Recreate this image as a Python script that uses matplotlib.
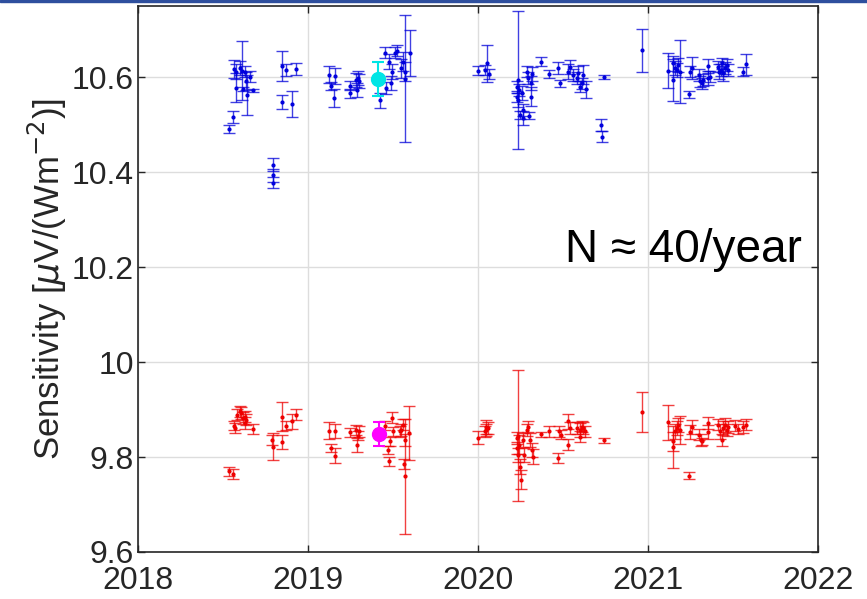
import matplotlib
matplotlib.use('Agg')
import matplotlib.pyplot as plt
from matplotlib.patches import Rectangle

plt.rcParams['font.family'] = ['Liberation Sans', 'DejaVu Sans']

# blue series (upper)
blue_t = [2018.559, 2018.535, 2018.565, 2018.579, 2018.598, 2018.614, 2018.628, 2018.638, 2018.657, 2018.575,
          2018.641, 2018.676, 2018.618, 2018.794, 2018.794, 2018.794, 2018.847, 2018.908, 2018.849, 2018.873,
          2018.928, 2019.124, 2019.157, 2019.134, 2019.155, 2019.249, 2019.249, 2019.281, 2019.294, 2019.300,
          2019.288, 2019.426, 2019.451, 2019.475, 2019.510, 2019.524, 2019.491, 2019.486, 2019.461, 2019.549,
          2019.559, 2019.569, 2019.569, 2019.598, 2020.000, 2020.039, 2020.053, 2020.065, 2020.235, 2020.226,
          2020.226, 2020.235, 2020.241, 2020.255, 2020.265, 2020.265, 2020.245, 2020.300, 2020.285, 2020.314,
          2020.310, 2020.308, 2020.294, 2020.367, 2020.418, 2020.471, 2020.481, 2020.539, 2020.529, 2020.559,
          2020.579, 2020.588, 2020.598, 2020.618, 2020.634, 2020.608, 2020.741, 2020.722, 2020.726, 2020.961,
          2021.114, 2021.144, 2021.147, 2021.157, 2021.167, 2021.176, 2021.186, 2021.241, 2021.245, 2021.255,
          2021.300, 2021.304, 2021.314, 2021.324, 2021.353, 2021.353, 2021.363, 2021.412, 2021.418, 2021.426,
          2021.432, 2021.441, 2021.451, 2021.461, 2021.471, 2021.559, 2021.575]
blue_v = [10.516, 10.491, 10.617, 10.612, 10.619, 10.614, 10.612, 10.592, 10.601, 10.578,
          10.563, 10.572, 10.575, 10.416, 10.393, 10.378, 10.547, 10.543, 10.624, 10.615,
          10.617, 10.605, 10.603, 10.582, 10.556, 10.582, 10.566, 10.594, 10.599, 10.592,
          10.573, 10.551, 10.652, 10.633, 10.652, 10.656, 10.612, 10.587, 10.577, 10.619,
          10.633, 10.612, 10.597, 10.651, 10.614, 10.615, 10.629, 10.607, 10.594, 10.579,
          10.559, 10.552, 10.573, 10.566, 10.531, 10.514, 10.521, 10.519, 10.612, 10.607,
          10.587, 10.559, 10.598, 10.633, 10.607, 10.619, 10.587, 10.622, 10.612, 10.605,
          10.598, 10.608, 10.580, 10.605, 10.575, 10.587, 10.601, 10.499, 10.475, 10.657,
          10.614, 10.629, 10.594, 10.619, 10.615, 10.626, 10.612, 10.564, 10.612, 10.620,
          10.605, 10.591, 10.587, 10.594, 10.624, 10.598, 10.601, 10.622, 10.612, 10.615,
          10.629, 10.608, 10.619, 10.626, 10.615, 10.612, 10.627]
blue_e = [0.012, 0.008, 0.019, 0.015, 0.015, 0.063, 0.012, 0.020, 0.012, 0.030,
          0.042, 0.004, 0.005, 0.013, 0.013, 0.012, 0.015, 0.027, 0.031, 0.012,
          0.013, 0.018, 0.017, 0.008, 0.019, 0.010, 0.010, 0.015, 0.015, 0.015,
          0.015, 0.015, 0.012, 0.015, 0.012, 0.012, 0.015, 0.015, 0.012, 0.020,
          0.020, 0.020, 0.133, 0.049, 0.010, 0.010, 0.039, 0.010, 0.146, 0.012,
          0.012, 0.015, 0.012, 0.015, 0.012, 0.015, 0.008, 0.008, 0.012, 0.015,
          0.015, 0.020, 0.012, 0.010, 0.008, 0.012, 0.008, 0.015, 0.015, 0.012,
          0.012, 0.015, 0.012, 0.020, 0.018, 0.012, 0.004, 0.012, 0.012, 0.045,
          0.037, 0.015, 0.045, 0.015, 0.015, 0.015, 0.066, 0.007, 0.012, 0.023,
          0.012, 0.012, 0.012, 0.012, 0.015, 0.015, 0.012, 0.012, 0.015, 0.012,
          0.012, 0.015, 0.012, 0.012, 0.012, 0.010, 0.022]

# red series (lower)
red_t = [2018.535, 2018.559, 2018.563, 2018.569, 2018.582, 2018.598, 2018.608, 2018.618, 2018.628, 2018.638,
         2018.632, 2018.676, 2018.791, 2018.794, 2018.847, 2018.847, 2018.873, 2018.906, 2018.928, 2019.124,
         2019.157, 2019.134, 2019.157, 2019.245, 2019.281, 2019.294, 2019.300, 2019.288, 2019.491, 2019.451,
         2019.500, 2019.481, 2019.471, 2019.476, 2019.549, 2019.559, 2019.539, 2019.594, 2019.565, 2019.569,
         2019.569, 2020.000, 2020.039, 2020.049, 2020.059, 2020.045, 2020.235, 2020.226, 2020.226, 2020.235,
         2020.245, 2020.249, 2020.265, 2020.269, 2020.285, 2020.294, 2020.304, 2020.314, 2020.320, 2020.241,
         2020.367, 2020.418, 2020.471, 2020.476, 2020.485, 2020.529, 2020.539, 2020.529, 2020.579, 2020.598,
         2020.608, 2020.618, 2020.628, 2020.598, 2020.741, 2020.961, 2021.114, 2021.144, 2021.147, 2021.157,
         2021.167, 2021.176, 2021.186, 2021.241, 2021.245, 2021.255, 2021.300, 2021.308, 2021.314, 2021.353,
         2021.353, 2021.412, 2021.422, 2021.432, 2021.441, 2021.451, 2021.461, 2021.471, 2021.510, 2021.529,
         2021.559, 2021.575]
red_v = [9.770, 9.764, 9.866, 9.861, 9.889, 9.896, 9.893, 9.882, 9.885, 9.879,
         9.872, 9.859, 9.836, 9.822, 9.885, 9.832, 9.866, 9.875, 9.889, 9.855,
         9.855, 9.819, 9.803, 9.852, 9.857, 9.845, 9.854, 9.826, 9.883, 9.866,
         9.854, 9.833, 9.815, 9.791, 9.857, 9.868, 9.854, 9.850, 9.785, 9.759,
         9.836, 9.841, 9.854, 9.864, 9.861, 9.857, 9.845, 9.840, 9.819, 9.805,
         9.780, 9.752, 9.836, 9.805, 9.857, 9.864, 9.836, 9.815, 9.801, 9.826,
         9.848, 9.854, 9.798, 9.854, 9.847, 9.875, 9.861, 9.826, 9.861, 9.857,
         9.864, 9.861, 9.854, 9.843, 9.835, 9.894, 9.873, 9.833, 9.821, 9.854,
         9.861, 9.868, 9.857, 9.761, 9.852, 9.863, 9.847, 9.836, 9.833, 9.852,
         9.872, 9.868, 9.854, 9.836, 9.861, 9.868, 9.857, 9.863, 9.866, 9.859,
         9.863, 9.868]
red_e = [0.010, 0.010, 0.010, 0.010, 0.012, 0.012, 0.012, 0.012, 0.012, 0.012,
         0.012, 0.010, 0.010, 0.028, 0.030, 0.015, 0.010, 0.015, 0.012, 0.018,
         0.015, 0.008, 0.015, 0.010, 0.010, 0.010, 0.012, 0.015, 0.012, 0.010,
         0.010, 0.010, 0.008, 0.010, 0.012, 0.012, 0.012, 0.057, 0.010, 0.122,
         0.012, 0.013, 0.012, 0.015, 0.012, 0.012, 0.138, 0.012, 0.012, 0.015,
         0.015, 0.020, 0.015, 0.015, 0.012, 0.012, 0.015, 0.015, 0.015, 0.020,
         0.005, 0.012, 0.010, 0.012, 0.010, 0.015, 0.012, 0.012, 0.012, 0.015,
         0.012, 0.012, 0.012, 0.012, 0.006, 0.042, 0.037, 0.020, 0.045, 0.015,
         0.015, 0.015, 0.030, 0.008, 0.015, 0.015, 0.012, 0.012, 0.008, 0.015,
         0.012, 0.012, 0.015, 0.012, 0.015, 0.015, 0.012, 0.012, 0.012, 0.010,
         0.012, 0.012]

# reference (mean) points
mean_t = [2019.412, 2019.416]
mean_v = [10.596, 9.848]
mean_e = [0.035, 0.025]
mean_c = ['#00e5e5', '#ff00ff']

yticks = [9.6, 9.8, 10.0, 10.2, 10.4, 10.6]
ytick_labels = ['9.6', '9.8', '10', '10.2', '10.4', '10.6']
xticks = [2018, 2019, 2020, 2021, 2022]

fig = plt.figure(figsize=(8.67, 5.99), dpi=100)
fig.add_artist(Rectangle((0, 0.996), 1, 0.004, transform=fig.transFigure, color='#2e4f9e'))
ax = fig.add_axes([0.159, 0.0785, 0.785, 0.9115])

ax.errorbar(blue_t, blue_v, yerr=blue_e, fmt='.', color='#0000dd', ecolor=(0, 0, 0.85, 0.75),
            markersize=4, elinewidth=1, capsize=4.5, capthick=1, zorder=3)
ax.errorbar(red_t, red_v, yerr=red_e, fmt='.', color='#ee0000', ecolor=(0.93, 0, 0, 0.75),
            markersize=4, elinewidth=1, capsize=4.5, capthick=1, zorder=3)
for t, v, e, c in zip(mean_t, mean_v, mean_e, mean_c):
    ax.errorbar([t], [v], yerr=[e], fmt='o', color=c, markersize=10, elinewidth=1.5,
                capsize=4.5, capthick=1.5, zorder=4)

ax.text(2020.51, 10.211, 'N \u2248 40/year', fontsize=33, ha='left', va='baseline', color='black')

ax.set_xlim(2018, 2022)
ax.set_ylim(9.6, 10.75)
ax.set_xticks(xticks)
ax.set_xticklabels([str(x) for x in xticks])
ax.set_yticks(yticks)
ax.set_yticklabels(ytick_labels)
ax.grid(True, color='#dddddd', linewidth=1)
ax.set_axisbelow(True)
ax.tick_params(direction='in', length=5, width=1, labelsize=23, top=True, right=True,
               colors='#262626', pad=3)
ax.tick_params(axis='x', pad=10)
for sp in ax.spines.values():
    sp.set_linewidth(1.2)
    sp.set_color('#262626')
ax.set_ylabel('Sensitivity [$\\mu$V/(Wm$^{-2}$)]', fontsize=25, color='#262626', labelpad=2)

plt.savefig('out.png', dpi=100)
